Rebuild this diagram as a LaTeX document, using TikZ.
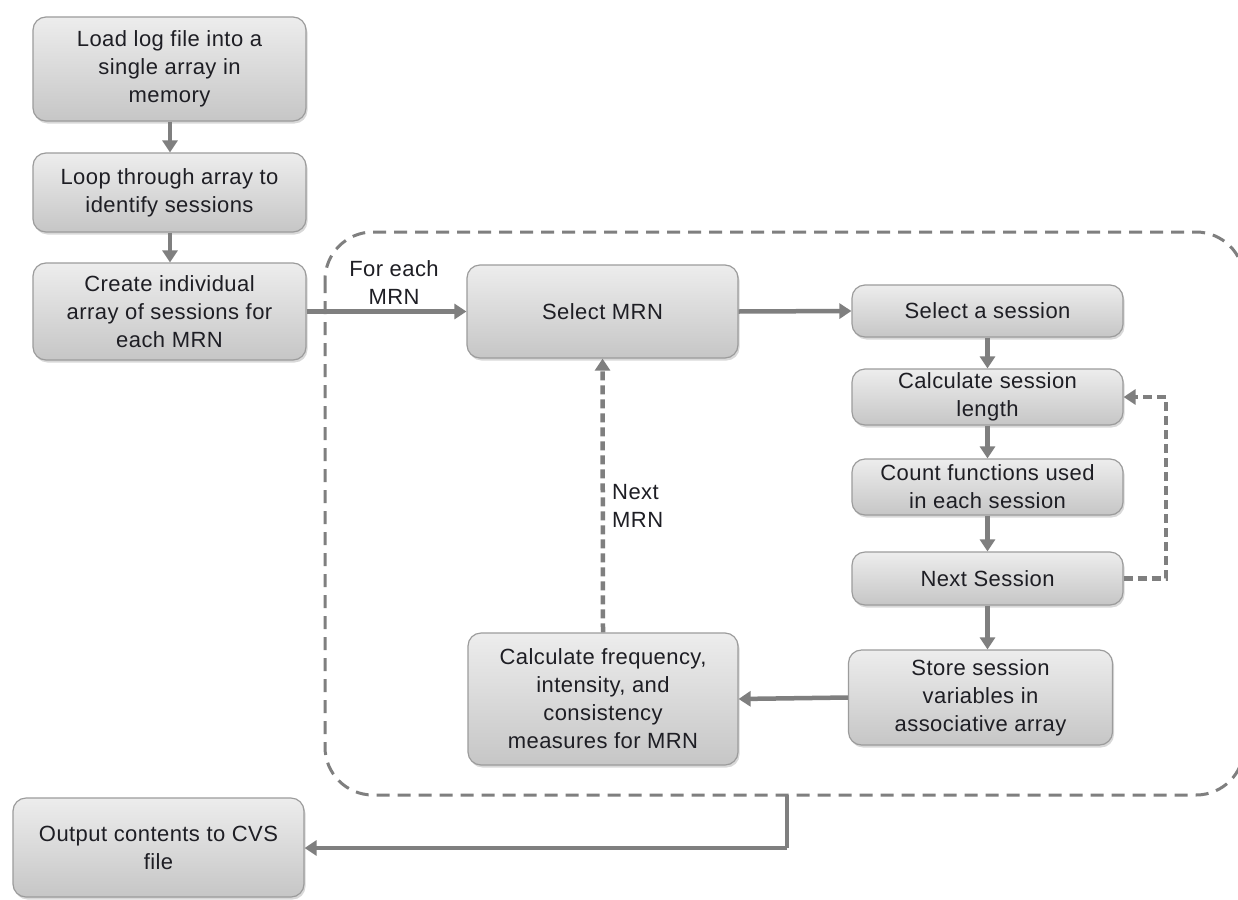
\documentclass[tikz,border=0pt]{standalone}
\usepackage{fontspec}
\setmainfont[LetterSpace=2]{Liberation Sans}
\usetikzlibrary{arrows.meta,shadows}
\definecolor{boxtop}{HTML}{EDEDED}
\definecolor{boxbot}{HTML}{C6C6C6}
\definecolor{boxline}{HTML}{9C9C9C}
\definecolor{arrowgray}{HTML}{7F7F7F}
\definecolor{txt}{HTML}{1E1E24}
\begin{document}
\begin{tikzpicture}[x=1pt,y=-1pt,
  procbox/.style={draw=boxline, line width=1.2pt, rounded corners=13pt,
    top color=boxtop, bottom color=boxbot, align=center, inner sep=0pt,
    text=txt, font=\fontsize{22pt}{28pt}\selectfont,
    drop shadow={shadow xshift=1.5pt, shadow yshift=-2.5pt, opacity=0.3, fill=gray}},
  flow/.style={draw=arrowgray, line width=4.5pt, -{Triangle[length=12pt,width=15pt]}},
  dflow/.style={flow, dash pattern=on 9pt off 5pt},
  lbl/.style={text=txt, font=\fontsize{22pt}{28pt}\selectfont, inner sep=0pt}]
\fill[white] (0,0) rectangle (1238,899);
\path[use as bounding box] (0,0) rectangle (1238,899);
% dashed region
\draw[arrowgray, line width=3pt, dash pattern=on 13pt off 8pt, rounded corners=48pt]
  (325,232) rectangle (1244,795);
% boxes
\node[procbox, minimum width=273pt, minimum height=104pt] (load) at (169.5,69) {Load log file into a\\single array in\\memory};
\node[procbox, minimum width=273pt, minimum height=79pt] (loop) at (169.5,192.5) {Loop through array to\\identify sessions};
\node[procbox, minimum width=273pt, minimum height=97pt] (create) at (169.5,311.5) {Create individual\\array of sessions for\\each MRN};
\node[procbox, minimum width=271pt, minimum height=93pt] (selmrn) at (602.5,311.5) {Select MRN};
\node[procbox, minimum width=271pt, minimum height=52pt] (selsess) at (987.5,311) {Select a session};
\node[procbox, minimum width=271pt, minimum height=56pt] (calclen) at (987.5,397) {Calculate session\\length};
\node[procbox, minimum width=271pt, minimum height=56pt] (count) at (987.5,487) {Count functions used\\in each session};
\node[procbox, minimum width=271pt, minimum height=53pt] (nextsess) at (987.5,578.5) {Next Session};
\node[procbox, minimum width=264pt, minimum height=95pt] (store) at (980.5,697.5) {Store session\\variables in\\associative array};
\node[procbox, minimum width=270pt, minimum height=132pt] (calcfreq) at (603,699) {Calculate frequency,\\intensity, and\\consistency\\measures for MRN};
\node[procbox, minimum width=291pt, minimum height=99pt] (output) at (158.5,847.5) {Output contents to CVS\\file};
% labels
\node[lbl, align=center] (foreach) at (394,283) {For each\\MRN};
\node[lbl, align=left, anchor=west] (nextmrn) at (612,506) {Next\\MRN};
% coordinates
\coordinate (loopr) at (1166,578.5);
\coordinate (loopt) at (1166,397);
\coordinate (exitt) at (787,795);
\coordinate (exitb) at (787,848);
% connectors
\draw[flow] (load.south -| 170,0) -- (loop.north -| 170,0);
\draw[flow] (loop.south -| 170,0) -- (create.north -| 170,0);
\draw[flow] (create.east) -- (selmrn.west);
\draw[flow] (selmrn.east) -- (selsess.west);
\draw[flow] (selsess.south) -- (calclen.north);
\draw[flow] (calclen.south) -- (count.north);
\draw[flow] (count.south) -- (nextsess.north);
\draw[flow] (nextsess.south) -- (nextsess.south |- store.north);
\draw[dflow] (nextsess.east) -- (loopr) -- (loopt) -- (calclen.east);
\draw[flow] (store.west) -- (calcfreq.east);
\draw[dflow] (calcfreq.north) -- (selmrn.south);
\draw[draw=arrowgray, line width=4.5pt] (exitt) -- (exitb);
\draw[flow] (exitb) -- (output.east |- exitb);
\end{tikzpicture}
\end{document}
